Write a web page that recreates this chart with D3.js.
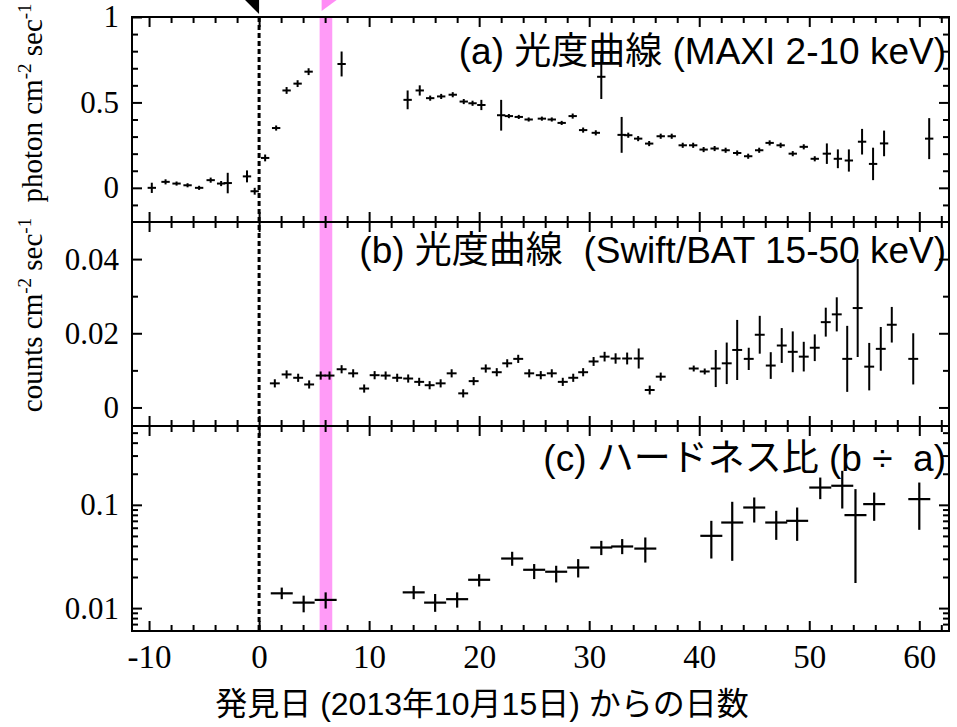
<!DOCTYPE html>
<html>
<head>
<meta charset="utf-8">
<script src="https://d3js.org/d3.v7.min.js"></script>
<style>
  body { margin: 0; background: #fff; }
  .axis path { display: none; }
  .axis line { stroke: #000; stroke-width: 2; }
  .axis text { font-family: "Liberation Serif", "Times New Roman", serif; fill: #000; }
</style>
</head>
<body>
<div id="chart"></div>
<script>
// (a) MAXI 2-10 keV light curve
var maxiDay  = [-9.75, -8.5, -7.5, -6.5, -5.45, -4.4, -3.45, -2.85, -1.1, -0.4, 0.55, 1.55, 2.5, 3.5, 4.5, 7.5,
                13.5, 14.6, 15.55, 16.55, 17.6, 18.6, 19.4, 20.2, 22.0, 22.7, 23.6, 24.5, 25.7, 26.6, 27.5, 28.5, 29.45, 30.6, 31.1,
                32.95, 33.55, 34.45, 35.45, 36.5, 37.5, 38.5, 39.45, 40.4, 41.4, 42.4, 43.45, 44.45, 45.45, 46.4, 47.4, 48.5,
                49.5, 50.5, 51.6, 52.6, 53.6, 54.8, 55.8, 56.8, 60.9];
var maxiRate = [0.0, 0.035, 0.025, 0.015, 0.0, 0.045, 0.025, 0.028, 0.067, -0.02, 0.175, 0.35, 0.57, 0.61, 0.68, 0.725,
                0.515, 0.57, 0.525, 0.535, 0.545, 0.505, 0.495, 0.485, 0.425, 0.42, 0.415, 0.40, 0.405, 0.40, 0.38, 0.42, 0.338, 0.322, 0.65,
                0.31, 0.308, 0.288, 0.259, 0.302, 0.302, 0.249, 0.249, 0.224, 0.23, 0.22, 0.204, 0.185, 0.22, 0.263, 0.249, 0.20,
                0.24, 0.17, 0.20, 0.17, 0.16, 0.27, 0.14, 0.26, 0.288];
var maxiErr  = [0.03, 0.015, 0.012, 0.012, 0.012, 0.015, 0.015, 0.06, 0.035, 0.02, 0.02, 0.015, 0.02, 0.02, 0.02, 0.073,
                0.055, 0.03, 0.015, 0.015, 0.015, 0.015, 0.015, 0.03, 0.09, 0.012, 0.012, 0.012, 0.012, 0.012, 0.012, 0.015, 0.015, 0.015, 0.13,
                0.105, 0.015, 0.015, 0.015, 0.015, 0.015, 0.015, 0.015, 0.015, 0.015, 0.015, 0.015, 0.015, 0.015, 0.015, 0.015, 0.015,
                0.015, 0.015, 0.06, 0.055, 0.065, 0.075, 0.095, 0.075, 0.12];

// (b) Swift/BAT 15-50 keV light curve
var batDay  = [1.43, 2.5, 3.55, 4.55, 5.6, 6.4, 7.5, 8.55, 9.55, 10.5, 11.5, 12.55, 13.55, 14.55, 15.5, 16.5, 17.5, 18.55,
               19.5, 20.6, 21.6, 22.55, 23.55, 24.55, 25.6, 26.6, 27.6, 28.55, 29.45, 30.4, 31.4, 32.4, 33.45, 34.5, 35.5, 36.5,
               39.5, 40.5, 41.5, 42.5, 43.45, 44.5, 45.5, 46.5, 47.5, 48.5, 49.5, 50.5, 51.5, 52.5, 53.45, 54.4, 55.45, 56.5,
               57.5, 59.45];
var batRate = [0.0065, 0.0089, 0.008, 0.0062, 0.0086, 0.0086, 0.0103, 0.0092, 0.0051, 0.0087, 0.0086, 0.008, 0.0078, 0.0069,
               0.006, 0.0065, 0.0092, 0.0038, 0.0071, 0.0105, 0.0095, 0.0119, 0.0131, 0.0092, 0.0087, 0.0092, 0.0069, 0.008,
               0.0095, 0.0124, 0.0137, 0.0132, 0.0132, 0.0132, 0.0047, 0.0083, 0.0105, 0.0097, 0.0105, 0.0119, 0.0155, 0.0131,
               0.0196, 0.0113, 0.0167, 0.015, 0.0137, 0.0161, 0.023, 0.0251, 0.0131, 0.0268, 0.011, 0.0158, 0.0223, 0.0131];
var batErr  = [0.0011, 0.0011, 0.0011, 0.0011, 0.0011, 0.0011, 0.0011, 0.0011, 0.0011, 0.0011, 0.0011, 0.0011, 0.0011, 0.0011,
               0.0011, 0.0011, 0.0011, 0.0011, 0.0011, 0.0011, 0.0011, 0.0011, 0.0011, 0.0011, 0.0011, 0.0011, 0.0011, 0.0011,
               0.0011, 0.0012, 0.0013, 0.0014, 0.0016, 0.0027, 0.0012, 0.0011, 0.0008, 0.0008, 0.005, 0.0056, 0.0081, 0.003,
               0.0051, 0.0036, 0.0047, 0.0055, 0.004, 0.0036, 0.0039, 0.0046, 0.0089, 0.0132, 0.0064, 0.0059, 0.0048, 0.0069];

// (c) hardness ratio (b / a)
var hrDay = [2.06, 4.05, 6.05, 14.05, 16.0, 18.0, 20.0, 23.0, 25.0, 27.0, 29.0, 31.1, 33.0, 35.1,
             41.1, 43.0, 45.0, 47.0, 48.9, 51.0, 53.0, 54.2, 55.9, 60.0];
var hrVal = [0.0139, 0.0113, 0.0120, 0.0142, 0.0113, 0.0122, 0.0188, 0.0302, 0.0235, 0.0225, 0.0247, 0.0386, 0.0395, 0.0377,
             0.0501, 0.0674, 0.0942, 0.0674, 0.0700, 0.147, 0.153, 0.0795, 0.1016, 0.1136];
var hrLo  = [0.0122, 0.0091, 0.0099, 0.0122, 0.0092, 0.0101, 0.0162, 0.0257, 0.0191, 0.0177, 0.0198, 0.0326, 0.0333, 0.0276,
             0.0302, 0.0287, 0.0674, 0.0458, 0.0448, 0.1135, 0.0921, 0.0175, 0.0700, 0.0573];
var hrHi  = [0.0158, 0.0132, 0.0142, 0.0164, 0.0137, 0.0142, 0.0213, 0.0351, 0.0267, 0.0257, 0.0298, 0.0448, 0.0466, 0.0483,
             0.0700, 0.107, 0.1178, 0.0875, 0.0942, 0.1837, 0.2134, 0.1419, 0.1315, 0.1644];

// axis ticks
var xMajor = [-10, 0, 10, 20, 30, 40, 50, 60];
var xMinor = d3.range(-10, 63, 2);
var aMajor = [0, 0.5, 1], aMinor = [-0.1, 0.1, 0.2, 0.3, 0.4, 0.6, 0.7, 0.8, 0.9];
var bMajor = [0, 0.02, 0.04], bMinor = [0.01, 0.03];
var cMajor = [0.01, 0.1], cMinor = [0.007, 0.008, 0.009, 0.02, 0.03, 0.04, 0.05, 0.06, 0.07, 0.08, 0.09, 0.2, 0.3, 0.4, 0.5];

var discoveryDay = 0;
var bandDays = [5.5, 6.65];

var width = 957, height = 727;
var left = 132, right = 949;

// plain ascii hyphen for negatives, like the original
var plain = function(d) { return String(d); };

var svg = d3.select("#chart").append("svg")
  .attr("width", width)
  .attr("height", height);

var x = d3.scaleLinear().domain([-11.55, 62.7]).range([left, right]);

var panels = [
  { top: 17,  bottom: 222, y: d3.scaleLinear().domain([-0.2, 1.0]),     major: aMajor, minor: aMinor },
  { top: 222, bottom: 426, y: d3.scaleLinear().domain([-0.005, 0.05]),  major: bMajor, minor: bMinor },
  { top: 426, bottom: 631, y: d3.scaleLog().domain([0.006, 0.58]),      major: cMajor, minor: cMinor }
];
panels.forEach(function(p) { p.y.range([p.bottom, p.top]); });

// magenta band and discovery line
svg.append("rect")
  .attr("x", x(bandDays[0]))
  .attr("width", x(bandDays[1]) - x(bandDays[0]))
  .attr("y", 17)
  .attr("height", 631 - 17)
  .attr("fill", "#ff9bf7");

svg.append("line")
  .attr("x1", x(discoveryDay)).attr("x2", x(discoveryDay))
  .attr("y1", 17).attr("y2", 631)
  .attr("stroke", "#000")
  .attr("stroke-width", 3)
  .attr("stroke-dasharray", "5,3");

// markers above frame
svg.append("path")
  .attr("d", "M" + x(discoveryDay) + ",-14 L" + x(discoveryDay) + ",14 L" + (x(discoveryDay) - 14) + ",0 Z")
  .attr("fill", "#000");
svg.append("path")
  .attr("d", "M" + (x(bandDays[0]) + 2) + ",-11 L" + (x(bandDays[0]) + 2) + ",11 L" + (x(bandDays[0]) + 17) + ",0 Z")
  .attr("fill", "#ff8cf5");

function errorBars(g, days, vals, lo, hi, xe, y, sw) {
  var idx = d3.range(days.length);
  g.selectAll(".v").data(idx).join("line")
    .attr("x1", function(i) { return x(days[i]); })
    .attr("x2", function(i) { return x(days[i]); })
    .attr("y1", function(i) { return y(lo[i]); })
    .attr("y2", function(i) { return y(hi[i]); })
    .attr("stroke", "#000").attr("stroke-width", sw);
  g.selectAll(".h").data(idx).join("line")
    .attr("x1", function(i) { return x(days[i] - xe); })
    .attr("x2", function(i) { return x(days[i] + xe); })
    .attr("y1", function(i) { return y(vals[i]); })
    .attr("y2", function(i) { return y(vals[i]); })
    .attr("stroke", "#000").attr("stroke-width", sw);
}

errorBars(svg.append("g"), maxiDay, maxiRate,
  maxiRate.map(function(v, i) { return v - maxiErr[i]; }),
  maxiRate.map(function(v, i) { return v + maxiErr[i]; }), 0.38, panels[0].y, 2);
errorBars(svg.append("g"), batDay, batRate,
  batRate.map(function(v, i) { return v - batErr[i]; }),
  batRate.map(function(v, i) { return v + batErr[i]; }), 0.45, panels[1].y, 2);
errorBars(svg.append("g"), hrDay, hrVal, hrLo, hrHi, 1.0, panels[2].y, 2.2);

// frames and ticks
panels.forEach(function(p, k) {
  svg.append("g").attr("class", "axis").attr("transform", "translate(" + left + ",0)")
    .call(d3.axisLeft(p.y).tickValues(p.major).tickSizeInner(-10).tickSizeOuter(0).tickPadding(13).tickFormat(plain))
    .selectAll("text").style("font-size", "31px");
  svg.append("g").attr("class", "axis").attr("transform", "translate(" + left + ",0)")
    .call(d3.axisLeft(p.y).tickValues(p.minor).tickSizeInner(-6).tickSizeOuter(0).tickFormat(""));
  svg.append("g").attr("class", "axis").attr("transform", "translate(" + right + ",0)")
    .call(d3.axisRight(p.y).tickValues(p.major).tickSizeInner(-10).tickSizeOuter(0).tickFormat(""));
  svg.append("g").attr("class", "axis").attr("transform", "translate(" + right + ",0)")
    .call(d3.axisRight(p.y).tickValues(p.minor).tickSizeInner(-6).tickSizeOuter(0).tickFormat(""));

  svg.append("g").attr("class", "axis").attr("transform", "translate(0," + p.top + ")")
    .call(d3.axisTop(x).tickValues(xMajor).tickSizeInner(-10).tickSizeOuter(0).tickFormat(""));
  svg.append("g").attr("class", "axis").attr("transform", "translate(0," + p.top + ")")
    .call(d3.axisTop(x).tickValues(xMinor.filter(function(v) { return v % 10 !== 0; })).tickSizeInner(-6).tickSizeOuter(0).tickFormat(""));
  var bottom = svg.append("g").attr("class", "axis").attr("transform", "translate(0," + p.bottom + ")")
    .call(d3.axisBottom(x).tickValues(xMajor).tickSizeInner(-10).tickSizeOuter(0).tickPadding(14)
      .tickFormat(k === 2 ? plain : ""));
  bottom.selectAll("text").style("font-size", "33px");
  svg.append("g").attr("class", "axis").attr("transform", "translate(0," + p.bottom + ")")
    .call(d3.axisBottom(x).tickValues(xMinor.filter(function(v) { return v % 10 !== 0; })).tickSizeInner(-6).tickSizeOuter(0).tickFormat(""));

  svg.append("rect")
    .attr("x", left).attr("y", p.top)
    .attr("width", right - left).attr("height", p.bottom - p.top)
    .attr("fill", "none").attr("stroke", "#000").attr("stroke-width", 2);
});

// panel titles
var sans = "'Liberation Sans', Arial, 'Noto Sans CJK JP', sans-serif";
var titles = [
  { text: "(a) 光度曲線 (MAXI 2-10 keV)", y: 64 },
  { text: "(b) 光度曲線\u00a0 (Swift/BAT 15-50 keV)", y: 263 },
  { text: "(c) ハードネス比 (b ÷\u00a0 a)", y: 471 }
];
svg.selectAll(".title").data(titles).join("text")
  .attr("class", "title")
  .attr("x", 946)
  .attr("y", function(d) { return d.y; })
  .attr("text-anchor", "end")
  .style("font-family", sans)
  .style("font-size", "37px")
  .text(function(d) { return d.text; });

// y axis labels
function yLabel(word, cy) {
  var t = svg.append("text")
    .attr("transform", "translate(42," + cy + ") rotate(-90)")
    .attr("text-anchor", "middle")
    .style("font-family", "'Liberation Serif', 'Times New Roman', serif")
    .style("font-size", "29px");
  t.append("tspan").text(word + " cm");
  t.append("tspan").attr("dy", -11).style("font-size", "19px").text("-2");
  t.append("tspan").attr("dy", 11).text(" sec");
  t.append("tspan").attr("dy", -11).style("font-size", "19px").text("-1");
}
yLabel("photon", 103);
yLabel("counts", 315);

// x axis label
svg.append("text")
  .attr("x", 482)
  .attr("y", 715)
  .attr("text-anchor", "middle")
  .style("font-family", sans)
  .style("font-size", "32px")
  .text("発見日 (2013年10月15日) からの日数");
</script>
</body>
</html>
